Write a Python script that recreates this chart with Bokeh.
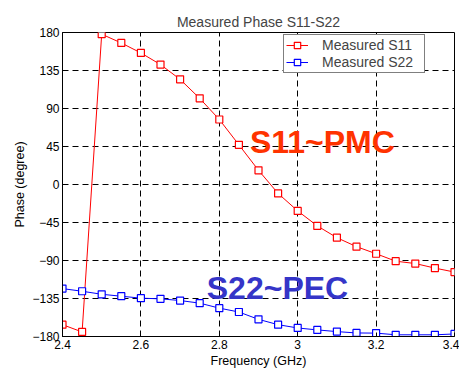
from bokeh.plotting import figure
from bokeh.models import Legend, LegendItem, FixedTicker, Range1d
from bokeh.core.properties import value
from bokeh.embed import file_html
from bokeh.resources import INLINE

freq = [2.4, 2.45, 2.5, 2.55, 2.6, 2.65, 2.7, 2.75, 2.8, 2.85, 2.9, 2.95,
        3.0, 3.05, 3.1, 3.15, 3.2, 3.25, 3.3, 3.35, 3.4]
s11 = [-166, -174.6, 178, 167.6, 155.8, 142, 124.5, 102, 77, 47, 16.8, -10.6,
       -31.3, -49, -63, -73.6, -82, -90.8, -93.6, -99, -103.7]
s22 = [-123.3, -126.4, -130, -132.3, -134.6, -135.4, -137.4, -140.5, -146.4,
       -151, -159.7, -166, -169.9, -172.2, -174.2, -175.8, -176, -178, -178,
       -178, -177]
x_ticks = [2.4, 2.6, 2.8, 3.0, 3.2, 3.4]
y_ticks = [-180, -135, -90, -45, 0, 45, 90, 135, 180]
labels = ["Measured S11", "Measured S22"]
notes = ["S11~PMC", "S22~PEC"]
note_x = [2.878, 2.768]
note_y = [50, -123]

FONT = "Liberation Sans"

p = figure(width=459, height=370, output_backend="svg", toolbar_location=None,
           x_range=Range1d(2.4, 3.4), y_range=Range1d(-180, 180),
           title="Measured Phase S11-S22",
           min_border_left=62, min_border_right=5, min_border_top=32,
           min_border_bottom=32)
p.title.align = "center"
p.title.text_font = FONT
p.title.text_font_style = "normal"
p.title.text_font_size = "14px"
p.title.standoff = 5
p.title.offset = 0

p.outline_line_color = "black"
p.outline_line_width = 1
p.background_fill_color = "white"
p.border_fill_color = "white"

p.xaxis.ticker = FixedTicker(ticks=x_ticks)
p.yaxis.ticker = FixedTicker(ticks=y_ticks)
p.xaxis.major_label_overrides = {2.4: "2.4", 2.6: "2.6", 2.8: "2.8", 3.0: "3", 3.2: "3.2", 3.4: "3.4"}
for ax in (p.xaxis, p.yaxis):
    ax.axis_line_color = "black"
    ax.major_tick_in = 4
    ax.major_tick_out = 0
    ax.minor_tick_in = 0
    ax.minor_tick_out = 0
    ax.major_label_text_font = FONT
    ax.major_label_text_font_size = "12px"
    ax.major_label_text_color = "black"
    ax.axis_label_text_font = FONT
    ax.axis_label_text_font_size = "12.5px"
    ax.axis_label_text_font_style = "normal"
    ax.axis_label_text_color = "black"
    ax.major_label_standoff = 3
    ax.axis_label_standoff = 2
p.xaxis.axis_label = "Frequency (GHz)"
p.yaxis.axis_label = "Phase (degree)"

p.grid.grid_line_color = "black"
p.grid.grid_line_dash = "6 4"
p.grid.grid_line_width = 1
p.grid.grid_line_alpha = 1.0

r1 = p.line(freq, s11, line_color="red", line_width=1)
m1 = p.scatter(freq, s11, marker="square", size=7, line_color="red", fill_color="white", line_width=1.2)
r2 = p.line(freq, s22, line_color="blue", line_width=1)
m2 = p.scatter(freq, s22, marker="square", size=7, line_color="blue", fill_color="white", line_width=1.2)

p.text(x=[note_x[0]], y=[note_y[0]], text=[notes[0]], text_font=value(FONT),
       text_font_style="bold", text_font_size="32px", text_color="#FF3300",
       text_align="left", text_baseline="middle")
p.text(x=[note_x[1]], y=[note_y[1]], text=[notes[1]], text_font=value(FONT),
       text_font_style="bold", text_font_size="32px", text_color="#3535C8",
       text_align="left", text_baseline="middle")

legend = Legend(items=[LegendItem(label=labels[0], renderers=[r1, m1]),
                       LegendItem(label=labels[1], renderers=[r2, m2])],
                location=(221, 263))
legend.label_text_font = FONT
legend.label_text_font_size = "14px"
legend.label_height = 16
legend.label_width = 100
legend.glyph_height = 16
legend.glyph_width = 22
legend.spacing = 1
legend.padding = 2
legend.margin = 0
legend.label_standoff = 14
legend.border_line_color = "black"
legend.border_line_width = 1
legend.background_fill_alpha = 1.0
p.add_layout(legend, "center")

open("out.html", "w").write(file_html(p, INLINE))
